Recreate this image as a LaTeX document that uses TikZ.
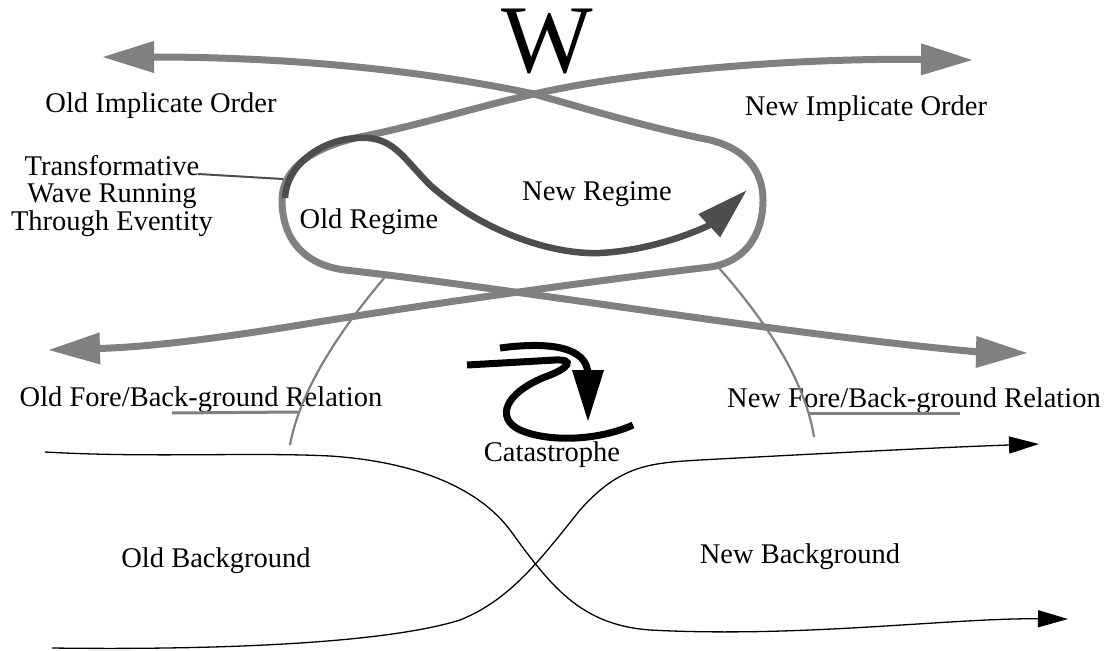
\documentclass[tikz,border=0pt]{standalone}
\usepackage{fontspec}
\setmainfont{Liberation Serif}
\usetikzlibrary{arrows.meta}
\definecolor{lgray}{HTML}{808080}
\definecolor{dgray}{HTML}{4D4D4D}
\begin{document}
\begin{tikzpicture}[x=1pt,y=-1pt,
  lbl/.style={inner sep=0pt, anchor=base, font=\fontsize{28.5}{27.5}\selectfont},
  bigtip/.tip={Triangle[length=52pt,width=30pt]},
  smalltip/.tip={Triangle[length=30pt,width=17pt]},
  thick gray/.style={draw=lgray, line width=7pt},
  wave/.style={draw=dgray, line width=6.5pt},
  thin gray/.style={draw=lgray, line width=2.2pt},
  ground/.style={draw=black, line width=1.3pt},
  cata/.style={draw=black, line width=7pt}
]
\useasboundingbox (0,0) rectangle (1115,650);

% labels
\node[lbl, font=\fontsize{97}{97}\selectfont] (w) at (547.5,73) {W};
\node[lbl] (oio) at (161,113) {Old Implicate Order};
\node[lbl] (nio) at (866,115) {New Implicate Order};
\node[inner sep=0pt, align=center, font=\fontsize{28.5}{27.5}\selectfont] (tw) at (112,196) {Transformative\\Wave Running\\Through Eventity};
\node[lbl] (ore) at (369,228) {Old Regime};
\node[lbl] (nre) at (597,200) {New Regime};
\node[lbl] (ofb) at (201,406) {Old Fore/Back-ground Relation};
\node[lbl] (nfb) at (914,407) {New Fore/Back-ground Relation};
\node[lbl] (cat) at (552,461) {Catastrophe};
\node[lbl] (obg) at (216,567) {Old Background};
\node[lbl] (nbg) at (800,563) {New Background};

% key points
\coordinate (tl) at (102,57);
\coordinate (bl) at (48,350);
\coordinate (tr) at (973,60);
\coordinate (br) at (1028,353);
\coordinate (xtop) at (534,94);
\coordinate (ws) at (285,198);
\coordinate (we) at (747,190);

% thin gray arcs (behind the thick curves)
\coordinate (la1) at (385,277); \coordinate (la2) at (290,445);
\coordinate (ra1) at (719,268); \coordinate (ra2) at (814,437);
\draw[thin gray] (la1) .. controls (340,330) and (300,390) .. (la2);
\draw[thin gray] (ra1) .. controls (765,320) and (805,380) .. (ra2);

% curve A: top-left arrow, around the right of the loop, bottom-left arrow
\draw[thick gray, {bigtip}-{bigtip}] (tl) .. controls (300,57) and (430,72) .. (xtop)
  .. controls (590,110) and (650,128) .. (710,140)
  .. controls (750,150) and (763,175) .. (763,200)
  .. controls (763,235) and (745,262) .. (710,267)
  .. controls (600,280) and (420,305) .. (300,325)
  .. controls (220,338) and (150,347) .. (bl);

% curve B: top-right arrow, around the left of the loop, bottom-right arrow
\draw[thick gray, {bigtip}-{bigtip}] (tr) .. controls (800,58) and (640,70) .. (xtop)
  .. controls (480,106) and (420,125) .. (360,137)
  .. controls (310,148) and (282,170) .. (282,200)
  .. controls (282,240) and (305,265) .. (345,270)
  .. controls (480,285) and (700,320) .. (850,338)
  .. controls (930,348) and (980,352) .. (br);

% transformative wave
\draw[wave, -{bigtip}] (ws) .. controls (287,160) and (330,135) .. (368,138)
  .. controls (395,140) and (405,160) .. (430,185)
  .. controls (480,230) and (550,255) .. (600,253)
  .. controls (660,250) and (710,225) .. (we);

% leader lines
\coordinate (tw1) at (198,174); \coordinate (tw2) at (283,179);
\draw[draw=dgray, line width=2pt] (tw1) -- (tw2);
\coordinate (ou1) at (172,413); \coordinate (ou2) at (298,412);
\draw[draw=lgray, line width=3pt] (ou1) -- (ou2);
\coordinate (nu1) at (809,413); \coordinate (nu2) at (960,413);
\draw[draw=lgray, line width=3pt] (nu1) -- (nu2);

% catastrophe symbol
\coordinate (c1) at (467,365); \coordinate (c2) at (633,425);
\draw[cata] (c1) -- (555,360) .. controls (575,359) and (570,368) .. (545,377)
  .. controls (505,393) and (495,418) .. (520,430)
  .. controls (550,443) and (600,440) .. (c2);
\coordinate (c3) at (500,348); \coordinate (c4) at (588,422);
\draw[cata, -{bigtip}] (c3) .. controls (545,342) and (588,345) .. (588,375) -- (c4);

% background curves
\coordinate (g1) at (45,452); \coordinate (g1e) at (1068,619);
\draw[ground, -{smalltip}] (g1) .. controls (150,458) and (250,452) .. (330,456)
  .. controls (420,462) and (480,490) .. (510,530)
  .. controls (550,585) and (580,625) .. (650,630)
  .. controls (800,638) and (950,618) .. (g1e);
\coordinate (g2) at (52,648); \coordinate (g2e) at (1039,444);
\draw[ground, -{smalltip}] (g2) .. controls (200,650) and (380,645) .. (460,620)
  .. controls (510,600) and (540,560) .. (580,510)
  .. controls (620,465) and (650,463) .. (700,460)
  .. controls (850,452) and (950,447) .. (g2e);
\end{tikzpicture}
\end{document}
